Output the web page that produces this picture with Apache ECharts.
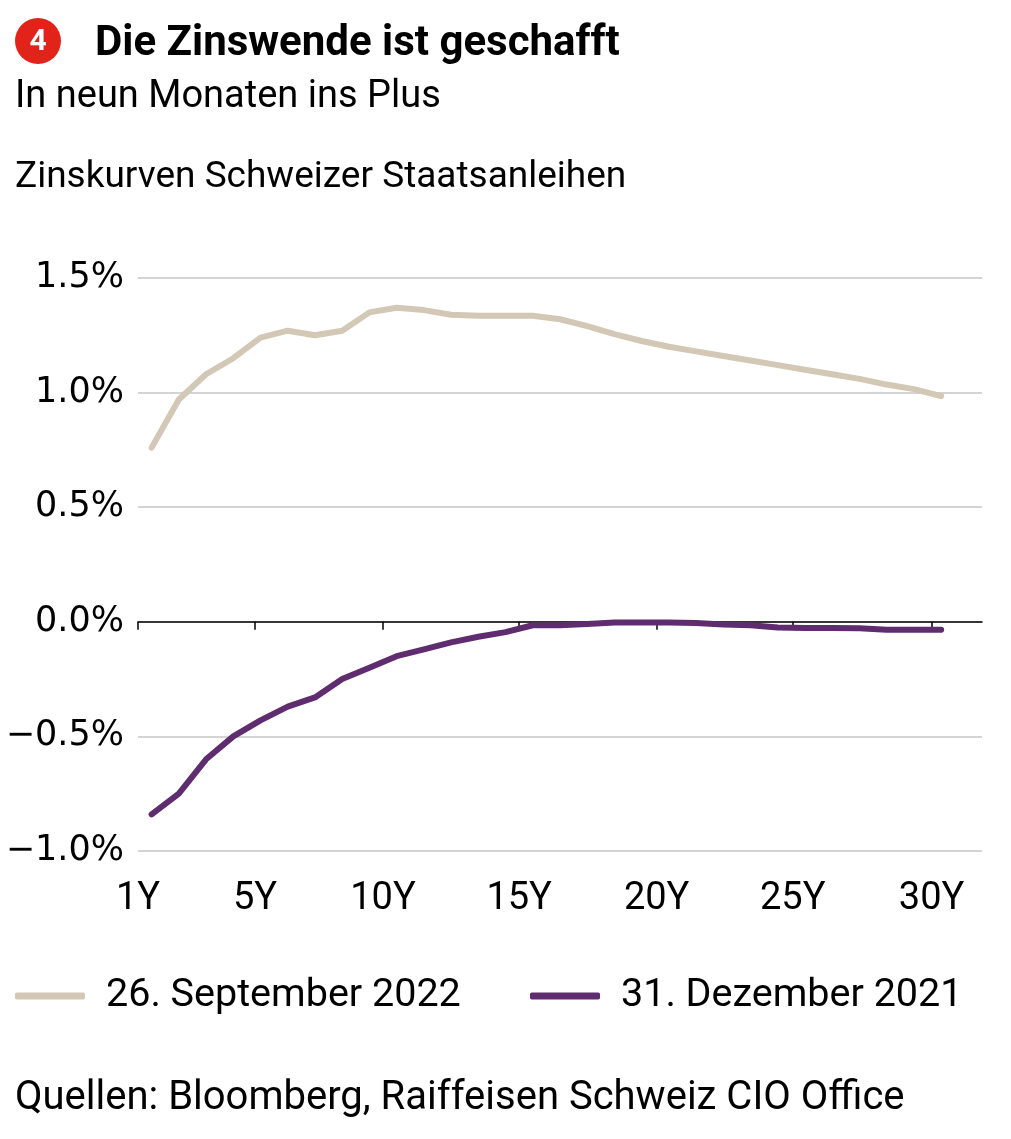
<!DOCTYPE html>
<html lang="de">
<head>
    <meta charset="UTF-8">
    <title>Die Zinswende ist geschafft</title>
    <script src="https://cdn.jsdelivr.net/npm/echarts@6.0.0/dist/echarts.min.js"></script>
    <style>
        html, body { margin: 0; padding: 0; background: #fff; }
        #chart { width: 1011px; height: 1139px; }
    </style>
</head>
<body>
    <div id="chart"></div>
    <script>
        // Laufzeiten in Jahren (1Y .. 30Y)
        var maturities = [1, 2, 3, 4, 5, 6, 7, 8, 9, 10, 11, 12, 13, 14, 15,
            16, 17, 18, 19, 20, 21, 22, 23, 24, 25, 26, 27, 28, 29, 30];
        // Rendite in %
        var sep2022 = [0.76, 0.97, 1.08, 1.15, 1.24, 1.27, 1.25, 1.27, 1.35, 1.37, 1.36, 1.34, 1.335, 1.335, 1.335,
            1.32, 1.29, 1.255, 1.225, 1.20, 1.18, 1.16, 1.14, 1.12, 1.10, 1.08, 1.06, 1.035, 1.015, 0.985];
        var dec2021 = [-0.84, -0.75, -0.60, -0.50, -0.43, -0.37, -0.33, -0.25, -0.20, -0.15, -0.12, -0.09, -0.065, -0.045, -0.015,
            -0.015, -0.01, -0.003, -0.003, -0.003, -0.005, -0.012, -0.015, -0.025, -0.027, -0.027, -0.028, -0.035, -0.035, -0.035];
        // Achsenbeschriftung
        var xTickPos = [0.5, 4.8, 9.5, 14.5, 19.55, 24.55, 29.65];
        var xTickLabels = ['1Y', '5Y', '10Y', '15Y', '20Y', '25Y', '30Y'];

        var seriesNames = ['26. September 2022', '31. Dezember 2021'];
        var colors = ['#d3c7b6', '#5e2c6f'];

        function pairs(vals) {
            return maturities.map(function (m, i) { return [m, vals[i]]; });
        }

        var chart = echarts.init(document.getElementById('chart'));
        var textFont = 'Roboto';

        var option = {
            animation: false,
            title: [
                { text: 'Die Zinswende ist geschafft', left: 90, top: 18,
                  textStyle: { fontFamily: textFont, fontWeight: 'bold', fontSize: 42, color: '#000' } },
                { text: 'In neun Monaten ins Plus', left: 10, top: 73,
                  textStyle: { fontFamily: textFont, fontWeight: 'normal', fontSize: 38, color: '#000' } },
                { text: 'Zinskurven Schweizer Staatsanleihen', left: 10, top: 154,
                  textStyle: { fontFamily: textFont, fontWeight: 'normal', fontSize: 37, color: '#000' } },
                { text: 'Quellen: Bloomberg, Raiffeisen Schweiz CIO Office', left: 10, top: 1074,
                  textStyle: { fontFamily: textFont, fontWeight: 'normal', fontSize: 40, color: '#000' } }
            ],
            graphic: [
                { type: 'circle', shape: { cx: 38, cy: 41, r: 23 }, style: { fill: '#e2231a' } },
                { type: 'text', x: 38, y: 42,
                  style: { text: '4', fill: '#fff', font: 'bold 30px Roboto', align: 'center', verticalAlign: 'middle' } }
            ],
            legend: [
                { data: [seriesNames[0]], left: 10, top: 971, icon: 'roundRect', itemWidth: 70, itemHeight: 7,
                  textStyle: { fontFamily: textFont, fontSize: 39.5, color: '#000', padding: [0, 0, 0, 16] } },
                { data: [seriesNames[1]], left: 525, top: 971, icon: 'roundRect', itemWidth: 70, itemHeight: 7,
                  textStyle: { fontFamily: textFont, fontSize: 39.5, color: '#000', padding: [0, 0, 0, 16] } }
            ],
            grid: { left: 138, right: 29, top: 278, bottom: 288 },
            xAxis: [
                {
                    type: 'value', min: 0.5, max: 31.5,
                    axisLine: { onZero: true, lineStyle: { color: '#000', width: 1.5 } },
                    axisTick: { show: true, length: 8, customValues: xTickPos, lineStyle: { color: '#000', width: 1.5 } },
                    axisLabel: { show: false },
                    splitLine: { show: false }
                },
                {
                    type: 'value', min: 0.5, max: 31.5, position: 'bottom',
                    axisLine: { show: false, onZero: false },
                    axisTick: { show: false },
                    splitLine: { show: false },
                    axisLabel: {
                        customValues: xTickPos,
                        margin: 29,
                        fontFamily: textFont, fontSize: 38, color: '#000',
                        formatter: function (v) {
                            var best = 0;
                            for (var i = 1; i < xTickPos.length; i++) {
                                if (Math.abs(xTickPos[i] - v) < Math.abs(xTickPos[best] - v)) best = i;
                            }
                            return xTickLabels[best];
                        }
                    }
                }
            ],
            yAxis: {
                type: 'value', min: -1, max: 1.5, interval: 0.5,
                axisLine: { show: false },
                axisTick: { show: false },
                splitLine: { lineStyle: { color: '#c6c6c6', width: 1.5 } },
                axisLabel: {
                    margin: 14,
                    fontFamily: 'DejaVu Sans', fontSize: 35, color: '#000',
                    formatter: function (v) {
                        var s = Math.abs(v).toFixed(1) + '%';
                        return v < 0 ? '\u2212' + s : s;
                    }
                }
            },
            series: [
                {
                    name: seriesNames[0], type: 'line', data: pairs(sep2022),
                    showSymbol: false, symbol: 'none',
                    lineStyle: { color: colors[0], width: 6, cap: 'round', join: 'round' },
                    itemStyle: { color: colors[0] }
                },
                {
                    name: seriesNames[1], type: 'line', data: pairs(dec2021),
                    showSymbol: false, symbol: 'none',
                    lineStyle: { color: colors[1], width: 6, cap: 'round', join: 'round' },
                    itemStyle: { color: colors[1] }
                }
            ]
        };
        chart.setOption(option);
    </script>
</body>
</html>
